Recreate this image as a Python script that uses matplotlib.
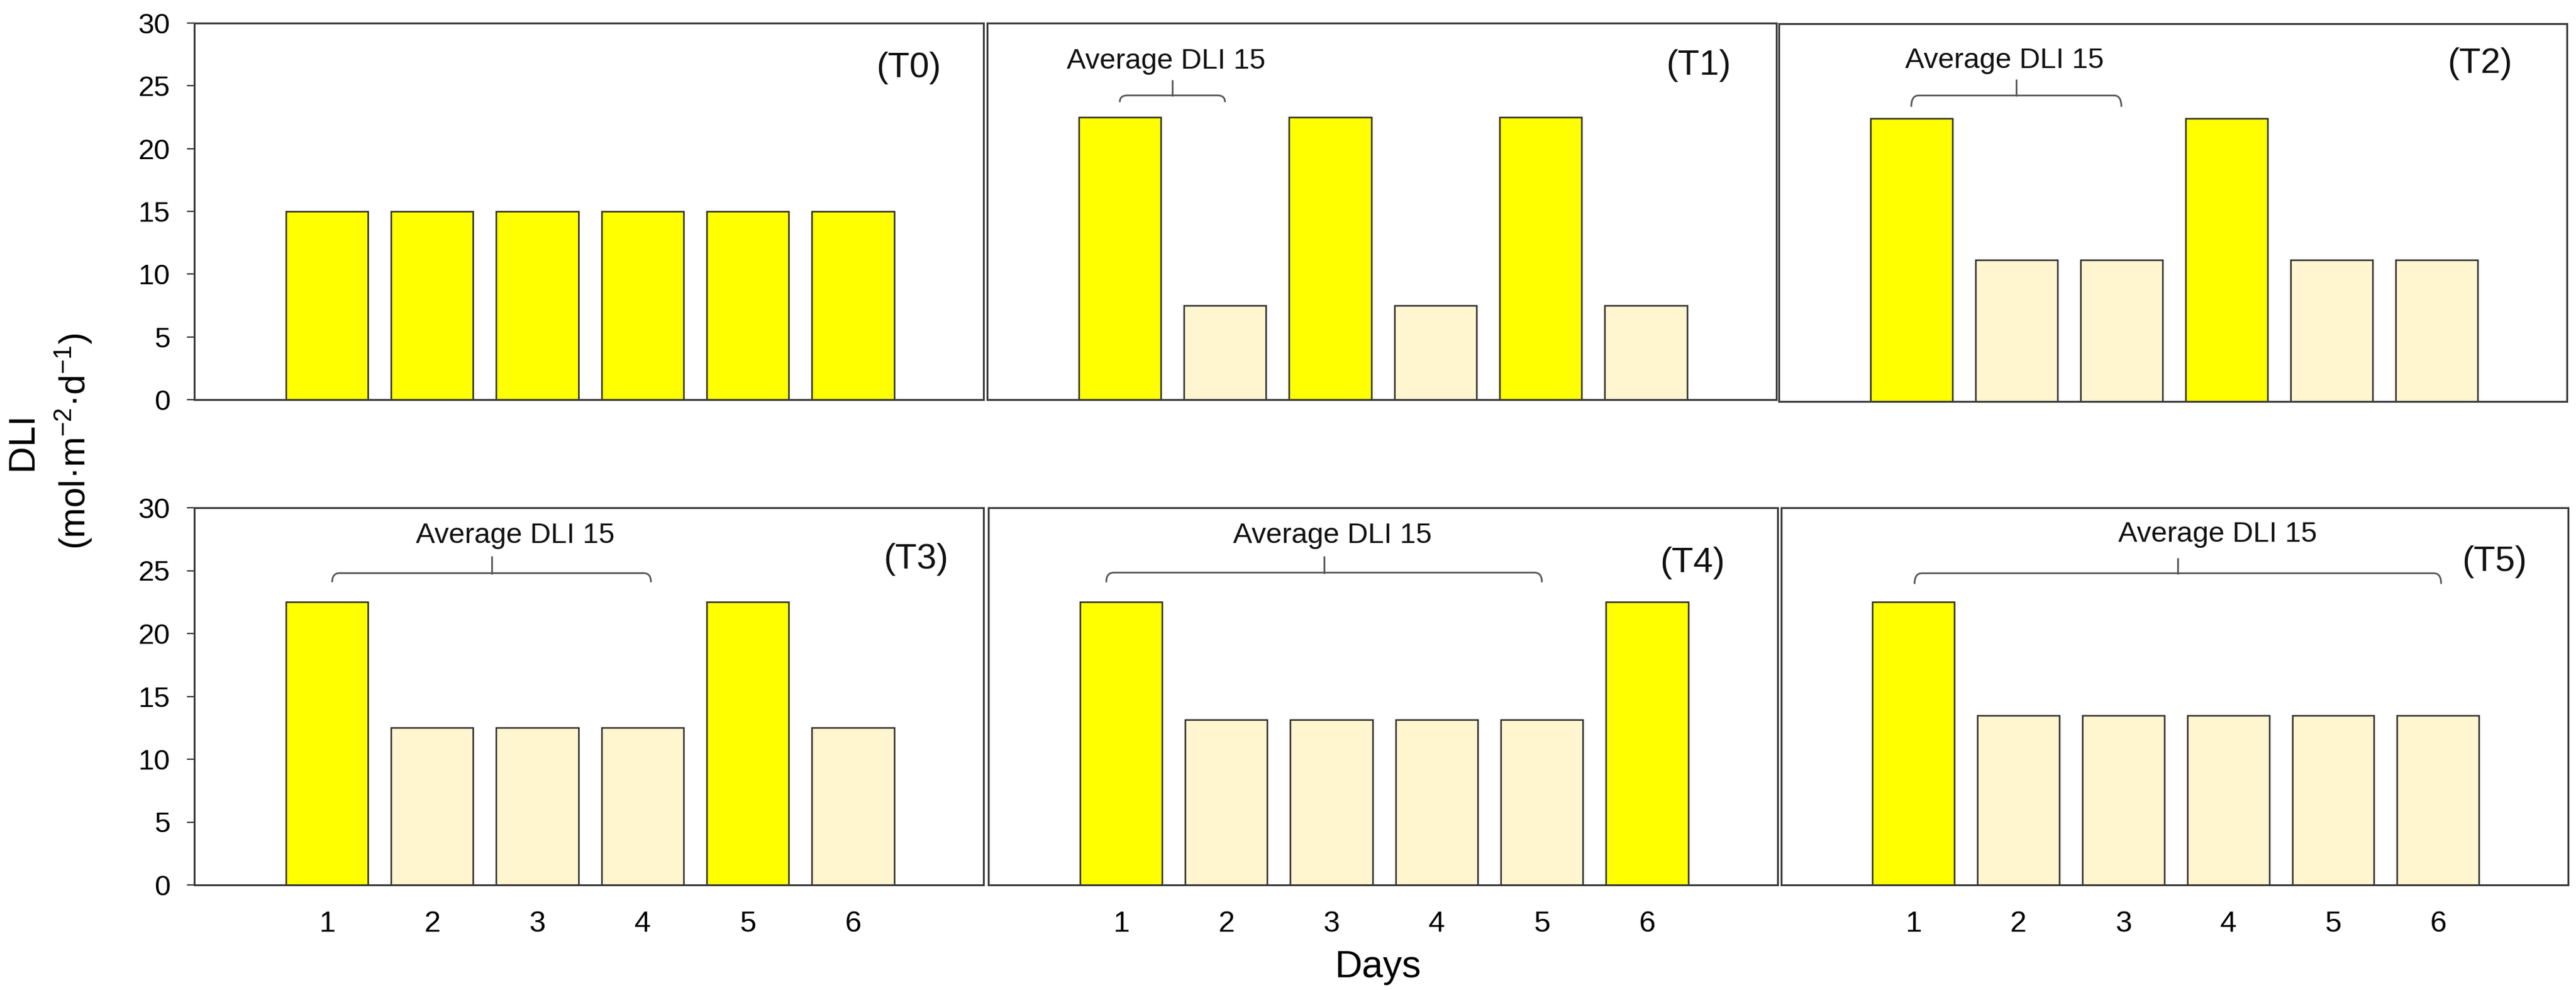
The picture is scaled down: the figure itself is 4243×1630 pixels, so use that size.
import matplotlib
matplotlib.use("Agg")
import matplotlib.pyplot as plt
from matplotlib.path import Path
from matplotlib.patches import PathPatch

plt.rcParams['font.family'] = ['Liberation Sans', 'DejaVu Sans']
plt.rcParams['mathtext.fontset'] = 'custom'
plt.rcParams['mathtext.rm'] = 'Liberation Sans'
plt.rcParams['mathtext.it'] = 'Liberation Sans:italic'
plt.rcParams['mathtext.bf'] = 'Liberation Sans:bold'

# ---------------- data ----------------
days = [1, 2, 3, 4, 5, 6]
panel_labels = ["(T0)", "(T1)", "(T2)", "(T3)", "(T4)", "(T5)"]
t0 = [15, 15, 15, 15, 15, 15]
t1 = [22.5, 7.5, 22.5, 7.5, 22.5, 7.5]
t2 = [22.5, 11.25, 11.25, 22.5, 11.25, 11.25]
t3 = [22.5, 12.5, 12.5, 12.5, 22.5, 12.5]
t4 = [22.5, 13.125, 13.125, 13.125, 13.125, 22.5]
t5 = [22.5, 13.5, 13.5, 13.5, 13.5, 13.5]
series = [t0, t1, t2, t3, t4, t5]
avg_text = "Average DLI 15"
yticks = [0, 5, 10, 15, 20, 25, 30]

# ---------------- layout (pixels) ----------------
W, H = 4243, 1630
boxes = [
    (320, 1620, 38, 658),
    (1626, 2926, 38, 658),
    (2930, 4228, 39, 661),
    (320, 1620, 836, 1457),
    (1628, 2928, 836, 1457),
    (2934, 4230, 836, 1457),
]
# label positions (x, y) in data units
label_pos = [(6.53, 26.4), (6.5, 26.6), (6.41, 26.8), (6.6, 25.9), (6.43, 25.6), (6.54, 25.7)]
# bracket: (x0, x1, y_line, y_end, y_tick, text_x, text_baseline)
brackets = [
    None,
    (1.0, 2.0, 24.24, 23.7, 25.4, 1.44, 26.37),
    (1.0, 3.0, 24.3, 23.4, 25.5, 1.89, 26.5),
    (1.05, 4.08, 24.8, 24.07, 26.1, 2.79, 27.2),
    (0.86, 5.0, 24.84, 24.07, 26.07, 3.01, 27.2),
    (1.01, 6.03, 24.79, 23.94, 25.95, 3.9, 27.3),
]

BRIGHT = "#FFFF00"
PALE = "#FFF5CF"
EDGE = "#2b2b2b"
SPINE = "#3a3a3a"
BRK = "#555555"

fig = plt.figure(figsize=(W / 100, H / 100), dpi=100)


def rect(x0, x1, y0, y1):
    return [x0 / W, 1 - y1 / H, (x1 - x0) / W, (y1 - y0) / H]


for i, vals in enumerate(series):
    ax = fig.add_axes(rect(*boxes[i]))
    colors = [BRIGHT if v >= 15 else PALE for v in vals]
    ax.bar(days, vals, width=0.78, color=colors, edgecolor=EDGE, linewidth=1.8, zorder=2)
    ax.set_xlim(-0.26, 7.24)
    ax.set_ylim(0, 30)
    for s in ax.spines.values():
        s.set_linewidth(2.2)
        s.set_color(SPINE)
    ax.set_yticks(yticks)
    if i in (0, 3):
        ax.tick_params(axis='y', direction='out', length=8.5, width=1.6, color=SPINE,
                       labelsize=34, pad=20)
    else:
        ax.tick_params(axis='y', length=0, labelleft=False)
    ax.set_xticks(days)
    if i >= 3:
        ax.set_xticklabels([str(d) for d in days])
        ax.tick_params(axis='x', length=0, labelsize=35, pad=30)
    else:
        ax.tick_params(axis='x', length=0, labelbottom=False)

    lx, ly = label_pos[i]
    ax.text(lx, ly, panel_labels[i], ha='center', va='center', fontsize=42, color='#111111')

    b = brackets[i]
    if b is not None:
        x0, x1, yl, ye, yt, tx, ty = b
        r = 0.07
        verts = [(x0, ye), (x0, yl), (x0 + r, yl), (x1 - r, yl), (x1, yl), (x1, ye)]
        codes = [Path.MOVETO, Path.CURVE3, Path.CURVE3, Path.LINETO, Path.CURVE3, Path.CURVE3]
        ax.add_patch(PathPatch(Path(verts, codes), facecolor='none', edgecolor=BRK,
                               linewidth=2.0, zorder=3))
        xm = (x0 + x1) / 2
        ax.plot([xm, xm], [yl, yt], color=BRK, linewidth=2.0, zorder=3)
        ax.text(tx, ty, avg_text, ha='center', va='baseline', fontsize=34, color='#111111')

fig.text(2270 / W, 1 - 1609 / H, "Days", ha='center', va='baseline', fontsize=45)
fig.text(37 / W, 1 - 727 / H, "DLI", rotation=90, ha='center', va='center', fontsize=44)
fig.text(121 / W, 1 - 727 / H, r"(mol·m$^{-2}$·d$^{-1}$)", rotation=90,
         ha='center', va='center', fontsize=43)

fig.savefig("out.png", dpi=100)
